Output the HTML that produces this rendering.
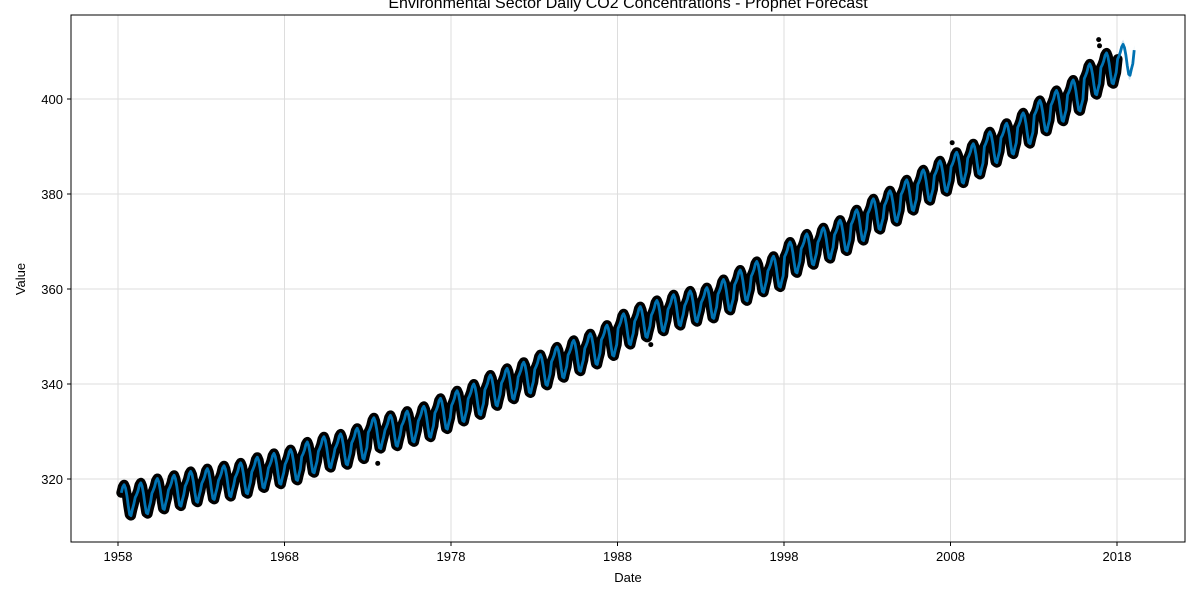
<!DOCTYPE html>
<html><head><meta charset="utf-8">
<style>
body{margin:0;background:#fff;}
svg{display:block;font-family:"Liberation Sans","DejaVu Sans",sans-serif;}
</style></head>
<body>
<svg id="chart" width="1200" height="600" viewBox="0 0 1200 600">
<text x="628" y="8" text-anchor="middle" font-size="16" fill="#000">Environmental Sector Daily CO2 Concentrations - Prophet Forecast</text>
<g id="grid"></g>
<g id="marks"></g>
<rect x="71" y="15" width="1114" height="527" fill="none" stroke="#000" stroke-width="1"/>
<g id="axes"></g>
<text x="628" y="582" text-anchor="middle" font-size="13">Date</text>
<text x="25" y="279" text-anchor="middle" font-size="13" transform="rotate(-90 25 279)">Value</text>
</svg>
<script>
// Data
const years = [1958,1959,1960,1961,1962,1963,1964,1965,1966,1967,1968,1969,1970,1971,1972,1973,1974,1975,1976,1977,1978,1979,1980,1981,1982,1983,1984,1985,1986,1987,1988,1989,1990,1991,1992,1993,1994,1995,1996,1997,1998,1999,2000,2001,2002,2003,2004,2005,2006,2007,2008,2009,2010,2011,2012,2013,2014,2015,2016,2017,2018,2019];
const annualMean = [315.6,316.0,316.9,317.6,318.4,319.0,319.6,320.2,321.4,322.2,323.0,324.6,325.7,326.3,327.5,329.7,330.2,331.1,332.1,333.8,335.4,336.8,338.7,340.1,341.4,343.0,344.6,346.0,347.4,349.2,351.6,353.1,354.4,355.6,356.4,357.1,358.8,360.8,362.6,363.7,366.7,368.4,369.7,371.3,373.5,375.8,377.5,379.8,381.9,383.8,385.6,387.4,389.9,391.7,393.9,396.5,398.6,400.8,404.2,406.5,408.3,410.2];
const seasonal = [0.1,0.7,1.5,2.7,3.2,2.5,0.9,-1.3,-3.1,-3.3,-2.0,-0.9];
const obsStart = 1958.2, obsEnd = 2018.1, fcEnd = 2019.1;
const outlierDates = [1973.6,1990.0,2008.1,2016.9,2016.95];
const outlierValues = [323.3,348.3,390.8,412.5,411.2];
const xTicks = [1958,1968,1978,1988,1998,2008,2018];
const yTicks = [320,340,360,380,400];

// Axis functions
const xScale = t => 118 + (t - 1958) * 16.65;
const yScale = v => 479 - (v - 320) * 4.75;
const NS = "http://www.w3.org/2000/svg";
function mk(tag, attrs, parent){const e=document.createElementNS(NS,tag);for(const k in attrs)e.setAttribute(k,attrs[k]);parent.appendChild(e);return e;}

const grid = document.getElementById('grid'), axes = document.getElementById('axes'), marks = document.getElementById('marks');
xTicks.forEach(t=>{
  const x=xScale(t);
  const g=mk('line',{x1:x,x2:x,y1:15,y2:542,stroke:'#ddd','stroke-width':1},grid);
  
  
  const tk=mk('line',{x1:x,x2:x,y1:542,y2:546,stroke:'#000'},axes);
  
  
  const lb=mk('text',{x:x,y:561,'text-anchor':'middle','font-size':13},axes);
  lb.textContent=t;
  
  
});
yTicks.forEach(v=>{
  const y=yScale(v);
  const g=mk('line',{x1:71,x2:1185,y1:y,y2:y,stroke:'#ddd','stroke-width':1},grid);
  
  
  const tk=mk('line',{x1:67,x2:71,y1:y,y2:y,stroke:'#000'},axes);
  
  
  const lb=mk('text',{x:63,y:y+5,'text-anchor':'end','font-size':13},axes);
  lb.textContent=v;
  
  
});

function value(t){
  const yi=Math.min(years.length-1,Math.max(0,Math.floor(t)-years[0]));
  const m=Math.min(11,Math.floor((t-Math.floor(t))*12));
  return annualMean[yi]+seasonal[m];
}
function pts(a,b,off){
  const p=[];
  for(let t=a;t<=b+1e-9;t+=1/12){p.push(xScale(t).toFixed(1)+','+yScale(value(t)+(off||0)).toFixed(1));}
  return p;
}
const up=pts(1958.2,fcEnd,1.0), dn=pts(1958.2,fcEnd,-1.0).reverse();
const band=mk('polygon',{points:up.concat(dn).join(' '),fill:'#0072B2','fill-opacity':0.2},marks);


const obs=mk('polyline',{points:pts(obsStart,obsEnd).join(' '),fill:'none',stroke:'#000','stroke-width':10,'stroke-linejoin':'round','stroke-linecap':'round'},marks);


outlierDates.forEach((d,i)=>{
  const c=mk('circle',{cx:xScale(d),cy:yScale(outlierValues[i]),r:2.5,fill:'#000'},marks);
  
  
});
const fc=mk('polyline',{points:pts(obsStart,fcEnd).join(' '),fill:'none',stroke:'#0072B2','stroke-width':2.8,'stroke-linejoin':'round'},marks);


</script>
</body></html>
